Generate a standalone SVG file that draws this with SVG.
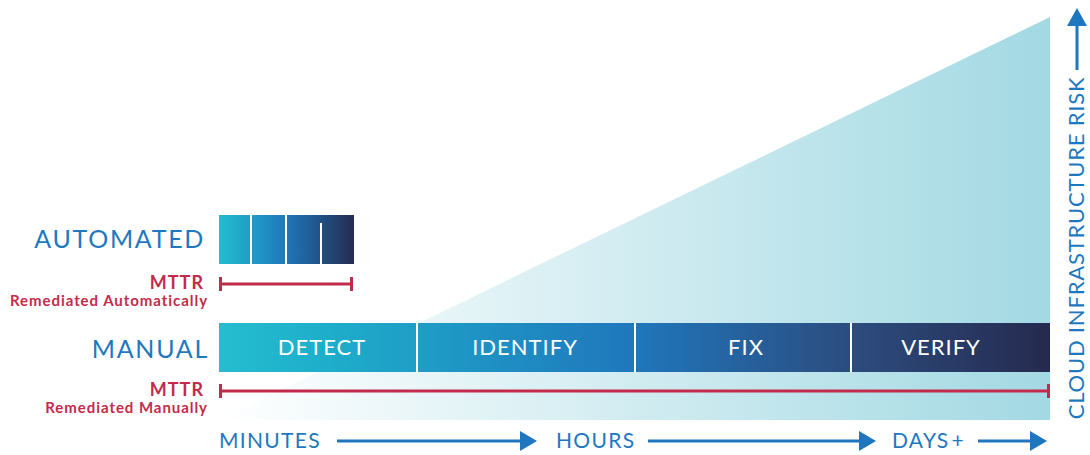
<svg xmlns="http://www.w3.org/2000/svg" width="1090" height="455" viewBox="0 0 1090 455">
  <defs>
    <linearGradient id="riskFill" gradientUnits="userSpaceOnUse" x1="219" y1="0" x2="1050" y2="0">
      <stop offset="0" stop-color="#ffffff"/>
      <stop offset="1" stop-color="#a3d9e3"/>
    </linearGradient>
    <linearGradient id="manualFill" gradientUnits="userSpaceOnUse" x1="219" y1="0" x2="1050" y2="0">
      <stop offset="0" stop-color="#25bdcf"/>
      <stop offset="0.12" stop-color="#1eafcb"/>
      <stop offset="0.5" stop-color="#1f77bc"/>
      <stop offset="0.76" stop-color="#2c4c7f"/>
      <stop offset="1" stop-color="#252a4e"/>
    </linearGradient>
    <linearGradient id="autoFill" gradientUnits="userSpaceOnUse" x1="219" y1="0" x2="354" y2="0">
      <stop offset="0" stop-color="#22bdce"/>
      <stop offset="0.5" stop-color="#1f77bc"/>
      <stop offset="1" stop-color="#242b50"/>
    </linearGradient>
    <style>
      .lbl { font-family: Lato, "Open Sans", "Liberation Sans", sans-serif; fill: #1e78c0; }
      .big { font-size: 25px; text-anchor: end; letter-spacing: 1.7px; }
      .axis { font-size: 21px; letter-spacing: 1.3px; }
      .seg { font-family: Lato, "Open Sans", "Liberation Sans", sans-serif; font-size: 22px; fill: #ffffff; text-anchor: middle; letter-spacing: 1px; }
      .red { font-family: Lato, "Open Sans", "Liberation Sans", sans-serif; font-weight: bold; fill: #c42a4b; text-anchor: end; }
      .mttr { font-size: 18px; letter-spacing: 1px; }
      .sub { font-size: 15px; letter-spacing: 0.95px; }
      .risk { font-size: 22px; text-anchor: middle; letter-spacing: 0.8px; }
      .bar-line { stroke: #c42a4b; stroke-width: 3; fill: none; }
      .tick { fill: #c42a4b; }
      .axis-line { stroke: #1e76bf; stroke-width: 3; fill: none; }
      .head { fill: #1e76bf; }
      .gap { fill: #ffffff; }
    </style>
  </defs>

  <!-- rising risk wedge -->
  <g id="risk-wedge">
    <polygon points="219,420 1050,17 1050,420" fill="url(#riskFill)"/>
  </g>

  <!-- automated pipeline -->
  <g id="automated">
    <text class="lbl big" x="205" y="248">AUTOMATED</text>
    <rect x="219" y="215" width="135" height="49" fill="url(#autoFill)"/>
    <rect class="gap" x="250" y="215" width="2" height="49"/>
    <rect class="gap" x="285" y="215" width="2" height="49"/>
    <rect class="gap" x="320" y="223" width="2" height="41"/>
  </g>

  <g id="mttr-automated">
    <text class="red mttr" x="204" y="289">MTTR</text>
    <text class="red sub" x="208" y="306">Remediated Automatically</text>
    <line class="bar-line" x1="220" y1="284" x2="351" y2="284"/>
    <rect class="tick" x="219" y="277" width="3" height="14"/>
    <rect class="tick" x="350" y="277" width="3" height="14"/>
  </g>

  <!-- manual pipeline -->
  <g id="manual">
    <text class="lbl big" x="209" y="358">MANUAL</text>
    <rect x="219" y="323" width="831" height="49" fill="url(#manualFill)"/>
    <rect class="gap" x="416" y="323" width="2" height="49"/>
    <rect class="gap" x="634" y="323" width="2" height="49"/>
    <rect class="gap" x="850" y="323" width="2" height="49"/>
  </g>
  <g id="stage-detect"><text class="seg" x="322" y="355">DETECT</text></g>
  <g id="stage-identify"><text class="seg" x="525" y="355">IDENTIFY</text></g>
  <g id="stage-fix"><text class="seg" x="746" y="355">FIX</text></g>
  <g id="stage-verify"><text class="seg" x="941" y="355">VERIFY</text></g>

  <g id="mttr-manual">
    <text class="red mttr" x="204" y="396">MTTR</text>
    <text class="red sub" x="208" y="413">Remediated Manually</text>
    <line class="bar-line" x1="220" y1="391" x2="1049" y2="391"/>
    <rect class="tick" x="219" y="384" width="3" height="14"/>
    <rect class="tick" x="1047" y="384" width="3" height="14"/>
  </g>

  <!-- time axis labels -->
  <g id="time-minutes"><text class="lbl axis" x="219" y="448">MINUTES</text></g>
  <g id="time-hours"><text class="lbl axis" x="556" y="448">HOURS</text></g>
  <g id="time-days"><text class="lbl axis" x="892" y="448">DAYS<tspan dx="2">+</tspan></text></g>

  <!-- risk axis label -->
  <g id="risk-label">
    <text class="lbl risk" transform="translate(1084,248) rotate(-90)">CLOUD INFRASTRUCTURE RISK</text>
  </g>

  <!-- axis arrows -->
  <g id="connectors">
    <line class="axis-line" x1="337" y1="441" x2="521" y2="441"/>
    <polygon class="head" points="520,431 537,441 520,451"/>
    <line class="axis-line" x1="648" y1="441" x2="860" y2="441"/>
    <polygon class="head" points="859,431 876,441 859,451"/>
    <line class="axis-line" x1="978" y1="441" x2="1031" y2="441"/>
    <polygon class="head" points="1030,431 1047,441 1030,451"/>
    <line class="axis-line" x1="1077" y1="70" x2="1077" y2="24"/>
    <polygon class="head" points="1067,26 1077,8 1087,26"/>
  </g>
</svg>
